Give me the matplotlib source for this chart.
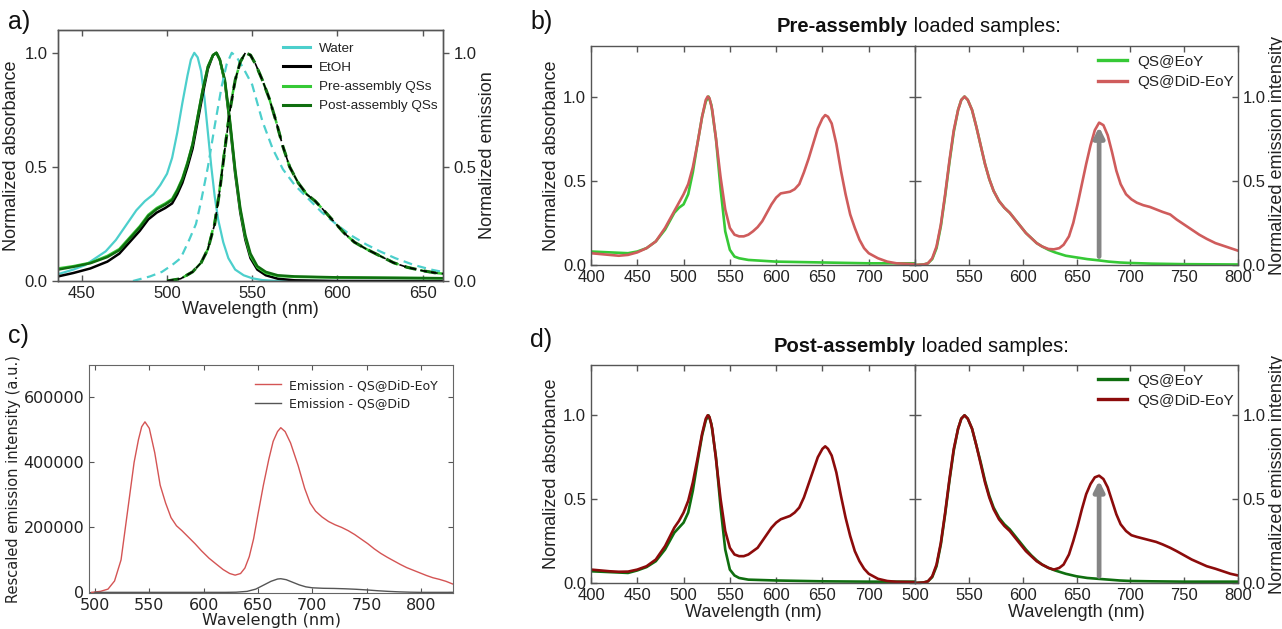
import matplotlib
matplotlib.use('Agg')
import matplotlib.pyplot as plt

# FONTS
SANS = ['Liberation Sans', 'DejaVu Sans']
NARROW = ['Liberation Sans Narrow', 'Liberation Sans', 'DejaVu Sans']

# DATA - panel a (normalized absorbance / emission)
water_abs_nm = [436, 445, 452, 458, 464, 470, 476, 482, 487, 492, 496, 500, 503, 506, 509, 512, 514, 516,
                518, 520, 522, 524, 526, 528, 530, 533, 536, 540, 545, 550, 556, 565, 665]
water_abs = [0.03, 0.05, 0.07, 0.10, 0.13, 0.18, 0.245, 0.31, 0.35, 0.38, 0.42, 0.47, 0.54, 0.65, 0.78, 0.90,
             0.97, 1.00, 0.98, 0.92, 0.80, 0.65, 0.50, 0.37, 0.27, 0.17, 0.10, 0.05, 0.025, 0.012, 0.004, 0.0, 0.0]
water_em_nm = [480, 490, 497, 503, 508, 513, 517, 520, 524, 528, 532, 535, 538, 541, 545, 550, 556, 562, 568,
               575, 583, 591, 600, 608, 617, 625, 634, 645, 655, 665]
water_em = [0.0, 0.02, 0.04, 0.07, 0.10, 0.18, 0.25, 0.35, 0.50, 0.68, 0.85, 0.95, 1.00, 0.98, 0.93, 0.86,
            0.70, 0.58, 0.49, 0.42, 0.36, 0.30, 0.245, 0.20, 0.16, 0.13, 0.10, 0.07, 0.05, 0.035]

abs_nm = [436, 445, 455, 465, 472, 478, 484, 489, 494, 499, 503, 506, 509, 512, 515, 518, 521, 524, 527, 529,
          531, 534, 537, 540, 543, 546, 549, 553, 558, 565, 575, 600, 665]
etoh_abs = [0.02, 0.035, 0.055, 0.085, 0.12, 0.17, 0.22, 0.27, 0.30, 0.32, 0.34, 0.38, 0.43, 0.50, 0.58,
            0.70, 0.82, 0.93, 0.99, 1.00, 0.97, 0.87, 0.68, 0.47, 0.30, 0.18, 0.10, 0.05, 0.025, 0.01, 0.003,
            0.0, 0.0]
pre_abs = [0.055, 0.065, 0.08, 0.11, 0.14, 0.19, 0.24, 0.29, 0.32, 0.34, 0.36, 0.40, 0.45, 0.52, 0.60,
           0.72, 0.84, 0.94, 0.99, 1.00, 0.97, 0.87, 0.69, 0.48, 0.31, 0.19, 0.11, 0.06, 0.035, 0.022, 0.018,
           0.015, 0.012]
post_abs = [0.05, 0.062, 0.078, 0.105, 0.135, 0.185, 0.235, 0.285, 0.315, 0.335, 0.355, 0.395, 0.445, 0.515,
            0.60, 0.72, 0.84, 0.94, 0.99, 1.00, 0.97, 0.88, 0.70, 0.49, 0.32, 0.20, 0.12, 0.065, 0.04, 0.025,
            0.02, 0.016, 0.012]

em_nm = [500, 508, 515, 520, 524, 528, 531, 534, 537, 540, 543, 546, 549, 552, 556, 560, 564, 568, 572, 577,
         582, 587, 592, 598, 604, 610, 617, 625, 633, 641, 650, 658, 665]
etoh_em = [0.0, 0.01, 0.04, 0.08, 0.14, 0.25, 0.40, 0.58, 0.75, 0.88, 0.96, 1.00, 0.99, 0.95, 0.88, 0.80,
           0.70, 0.59, 0.50, 0.43, 0.38, 0.35, 0.31, 0.26, 0.21, 0.17, 0.14, 0.11, 0.08, 0.06, 0.045, 0.035, 0.03]
pre_em = [0.0, 0.01, 0.04, 0.08, 0.14, 0.26, 0.41, 0.59, 0.76, 0.88, 0.96, 1.00, 0.99, 0.95, 0.88, 0.80,
          0.70, 0.59, 0.50, 0.43, 0.38, 0.35, 0.31, 0.26, 0.21, 0.17, 0.14, 0.11, 0.08, 0.06, 0.045, 0.035, 0.03]
post_em = [0.0, 0.01, 0.04, 0.08, 0.14, 0.25, 0.40, 0.58, 0.75, 0.88, 0.96, 1.00, 0.99, 0.95, 0.88, 0.80,
           0.70, 0.59, 0.50, 0.43, 0.38, 0.35, 0.31, 0.26, 0.21, 0.17, 0.14, 0.11, 0.08, 0.06, 0.045, 0.035, 0.03]

# DATA - panel b (pre-assembly)
b_abs_nm = [400, 420, 430, 440, 450, 460, 470, 480, 490, 495, 500, 505, 510, 515, 520, 524, 526, 528, 531,
            535, 540, 545, 550, 555, 560, 565, 570, 575, 580, 585, 590, 595, 600, 605, 610, 615, 620, 625,
            630, 635, 640, 645, 650, 653, 656, 660, 665, 670, 675, 680, 685, 690, 695, 700, 710, 720, 730, 750]
b_did_abs = [0.07, 0.06, 0.055, 0.06, 0.075, 0.10, 0.14, 0.22, 0.32, 0.37, 0.42, 0.48, 0.58, 0.72, 0.88,
             0.98, 1.00, 0.99, 0.92, 0.75, 0.52, 0.33, 0.22, 0.18, 0.17, 0.17, 0.18, 0.20, 0.225, 0.26, 0.31,
             0.36, 0.40, 0.425, 0.43, 0.435, 0.45, 0.48, 0.55, 0.63, 0.72, 0.81, 0.87, 0.89, 0.88, 0.84, 0.72,
             0.56, 0.42, 0.30, 0.22, 0.15, 0.10, 0.07, 0.04, 0.02, 0.01, 0.005]
b_eoy_abs_nm = [400, 420, 440, 450, 460, 470, 480, 490, 495, 500, 505, 510, 515, 520, 524, 527, 530, 535,
                540, 545, 550, 555, 560, 570, 600, 650, 700, 750]
b_eoy_abs = [0.08, 0.075, 0.07, 0.08, 0.10, 0.14, 0.21, 0.31, 0.34, 0.36, 0.42, 0.55, 0.72, 0.88, 0.97,
             1.00, 0.95, 0.75, 0.45, 0.20, 0.09, 0.05, 0.04, 0.03, 0.02, 0.015, 0.01, 0.01]

b_em_nm = [500, 508, 512, 516, 520, 524, 528, 532, 536, 540, 543, 546, 549, 553, 557, 561, 565, 569, 573,
           578, 583, 588, 593, 598, 603, 608, 613, 618, 624, 629, 634, 638, 643, 647, 651, 655, 659, 663,
           667, 671, 675, 679, 683, 687, 691, 696, 701, 706, 712, 718, 724, 730, 737, 743, 750, 757, 764,
           771, 779, 786, 793, 800]
b_did_em = [0.0, 0.003, 0.01, 0.04, 0.11, 0.24, 0.42, 0.62, 0.80, 0.92, 0.98, 1.00, 0.98, 0.92, 0.82, 0.71,
            0.60, 0.51, 0.44, 0.38, 0.34, 0.31, 0.27, 0.23, 0.19, 0.16, 0.13, 0.11, 0.095, 0.093, 0.10, 0.12,
            0.17, 0.25, 0.36, 0.48, 0.60, 0.71, 0.80, 0.845, 0.83, 0.77, 0.67, 0.56, 0.48, 0.42, 0.39, 0.37,
            0.355, 0.345, 0.33, 0.315, 0.30, 0.27, 0.24, 0.21, 0.18, 0.155, 0.13, 0.115, 0.10, 0.085]
eoy_em_nm = [500, 508, 512, 516, 520, 524, 528, 532, 536, 540, 543, 546, 549, 553, 557, 561, 565, 569, 573,
             578, 583, 588, 593, 598, 603, 608, 613, 618, 624, 630, 640, 650, 660, 670, 680, 690, 700, 720,
             750, 800]
b_eoy_em = [0.0, 0.003, 0.01, 0.035, 0.10, 0.23, 0.41, 0.61, 0.79, 0.92, 0.98, 1.00, 0.98, 0.92, 0.82, 0.71,
            0.60, 0.51, 0.44, 0.38, 0.34, 0.31, 0.27, 0.23, 0.19, 0.16, 0.13, 0.11, 0.09, 0.075, 0.055, 0.045,
            0.035, 0.028, 0.02, 0.015, 0.012, 0.008, 0.005, 0.003]

# DATA - panel c (rescaled emission)
c_nm = [497, 505, 512, 518, 524, 528, 532, 536, 540, 543, 546, 550, 555, 560, 565, 570, 575, 580, 586, 592,
        598, 605, 612, 618, 624, 629, 634, 638, 642, 646, 650, 655, 660, 664, 668, 671, 675, 680, 687, 693,
        698, 703, 709, 715, 721, 727, 733, 739, 745, 751, 757, 763, 769, 775, 781, 787, 793, 799, 805, 811,
        817, 823, 829]
c_did_eoy = [0, 3000, 10000, 35000, 100000, 200000, 300000, 400000, 470000, 510000, 525000, 505000, 430000,
             330000, 275000, 230000, 205000, 190000, 170000, 150000, 128000, 105000, 86000, 70000, 58000,
             53000, 58000, 75000, 110000, 165000, 240000, 330000, 410000, 465000, 495000, 507000, 495000,
             460000, 390000, 320000, 275000, 250000, 232000, 218000, 208000, 200000, 190000, 178000, 164000,
             150000, 134000, 120000, 108000, 97000, 86000, 76000, 68000, 60000, 52000, 45000, 40000, 34000,
             26000]
c_did_nm = [500, 620, 630, 640, 648, 655, 662, 668, 671, 676, 682, 688, 694, 700, 710, 720, 730, 740, 750,
            760, 770, 780, 790, 800, 829]
c_did = [0, 0, 500, 3000, 10000, 22000, 34000, 41000, 42000, 39000, 31000, 23000, 17000, 14000, 12500,
         12000, 11000, 9500, 7500, 5000, 3000, 1500, 500, 0, 0]

# DATA - panel d (post-assembly)
d_did_abs = [0.08, 0.07, 0.067, 0.068, 0.08, 0.10, 0.14, 0.22, 0.33, 0.37, 0.42, 0.49, 0.60, 0.74, 0.89,
             0.98, 1.00, 0.99, 0.92, 0.74, 0.50, 0.31, 0.21, 0.17, 0.16, 0.16, 0.17, 0.19, 0.21, 0.25, 0.29,
             0.33, 0.36, 0.38, 0.39, 0.40, 0.42, 0.45, 0.51, 0.59, 0.67, 0.75, 0.80, 0.815, 0.80, 0.76, 0.66,
             0.52, 0.39, 0.28, 0.19, 0.13, 0.085, 0.055, 0.025, 0.012, 0.007, 0.005]
d_eoy_abs = [0.07, 0.065, 0.06, 0.075, 0.095, 0.13, 0.20, 0.30, 0.33, 0.36, 0.42, 0.55, 0.72, 0.88, 0.97,
             1.00, 0.95, 0.75, 0.45, 0.20, 0.08, 0.045, 0.03, 0.02, 0.015, 0.01, 0.008, 0.008]
d_did_em = [0.0, 0.003, 0.01, 0.04, 0.11, 0.24, 0.42, 0.62, 0.80, 0.92, 0.98, 1.00, 0.98, 0.92, 0.82, 0.71,
            0.60, 0.51, 0.44, 0.38, 0.34, 0.31, 0.27, 0.23, 0.19, 0.16, 0.13, 0.11, 0.09, 0.08, 0.09, 0.11,
            0.17, 0.25, 0.34, 0.44, 0.53, 0.59, 0.63, 0.64, 0.62, 0.57, 0.49, 0.41, 0.35, 0.31, 0.285, 0.275,
            0.265, 0.255, 0.245, 0.23, 0.21, 0.19, 0.165, 0.14, 0.12, 0.10, 0.085, 0.07, 0.055, 0.045]
d_eoy_em = [0.0, 0.003, 0.01, 0.035, 0.10, 0.23, 0.41, 0.61, 0.79, 0.92, 0.98, 1.00, 0.98, 0.92, 0.82, 0.72,
            0.61, 0.52, 0.45, 0.39, 0.35, 0.32, 0.28, 0.24, 0.20, 0.165, 0.135, 0.11, 0.09, 0.075, 0.055,
            0.04, 0.03, 0.025, 0.02, 0.015, 0.012, 0.01, 0.008, 0.008]

# arrow positions (nm, start, end)
b_arrow = (671, 0.05, 0.82)
d_arrow = (671, 0.04, 0.61)

# COLOURS
CYAN = '#4ccfcc'
LGREEN = '#36c936'
DGREEN = '#0f6e0f'
RED_B = '#cf5c5c'
RED_D = '#8c0b0b'
SPINE = '#555555'
TXT = '#222222'

W, H = 1282, 629


def frac(left, top, right, bottom):
    return [left / W, 1 - bottom / H, (right - left) / W, (bottom - top) / H]


def style_axes(ax, family, size):
    for s in ax.spines.values():
        s.set_color(SPINE)
        s.set_linewidth(1.0)
    ax.tick_params(colors=SPINE, labelcolor=TXT, labelsize=size, width=1.0, length=4)
    for lab in ax.get_xticklabels() + ax.get_yticklabels():
        lab.set_family(family)


def spectra_pair(axl, axr, abs_series, em_series, arrow, xlabel):
    for x, y, c in abs_series:
        axl.plot(x, y, color=c, lw=1.9)
    for x, y, c, lab in em_series:
        axr.plot(x, y, color=c, lw=1.9, label=lab)
    axl.set_xlim(400, 750)
    axr.set_xlim(500, 800)
    for ax in (axl, axr):
        ax.set_ylim(0, 1.3)
        ax.set_yticks([0, 0.5, 1.0])
        ax.set_yticklabels(['0.0', '0.5', '1.0'])
        ax.tick_params(direction='in', top=True, bottom=True)
    axl.set_xticks(range(400, 701, 50))
    axr.set_xticks(range(500, 801, 50))
    axl.tick_params(left=True, right=True)
    axr.yaxis.tick_right()
    axr.tick_params(left=True, right=True, labelleft=False, labelright=True)
    style_axes(axl, NARROW, 12)
    style_axes(axr, NARROW, 12)
    axl.set_ylabel('Normalized absorbance', family=SANS, fontsize=13, color=TXT, labelpad=2)
    axr.yaxis.set_label_position('right')
    axr.set_ylabel('Normalized emission intensity', family=SANS, fontsize=13, color=TXT, labelpad=2)
    if xlabel:
        axl.set_xlabel('Wavelength (nm)', family=SANS, fontsize=13, color=TXT, labelpad=1)
        axr.set_xlabel('Wavelength (nm)', family=SANS, fontsize=13, color=TXT, labelpad=1)
    axr.annotate('', xy=(arrow[0], arrow[2]), xytext=(arrow[0], arrow[1]),
                 arrowprops=dict(arrowstyle='-|>', color='#858585', lw=3.4, mutation_scale=15,
                                 shrinkA=0, shrinkB=0))
    leg = axr.legend(loc='upper left', frameon=False, prop={'family': NARROW, 'size': 11},
                     handlelength=1.9, handletextpad=0.65, labelspacing=0.4, borderpad=0,
                     borderaxespad=0, bbox_to_anchor=(0.567, 0.96))
    for line in leg.get_lines():
        line.set_linewidth(2.4)
    for t in leg.get_texts():
        t.set_color(TXT)


# SCRIPT
fig = plt.figure(figsize=(W / 100, H / 100), dpi=100)

# ---- panel a
ax_a = fig.add_axes(frac(58, 30, 443, 281))
ax_a2 = ax_a.twinx()
ax_a.plot(water_abs_nm, water_abs, color=CYAN, lw=1.6, label='Water')
ax_a.plot(abs_nm, etoh_abs, color='black', lw=1.8, label='EtOH')
ax_a.plot(abs_nm, pre_abs, color=LGREEN, lw=1.8, label='Pre-assembly QSs')
ax_a.plot(abs_nm, post_abs, color=DGREEN, lw=1.8, label='Post-assembly QSs')
ax_a2.plot(water_em_nm, water_em, color=CYAN, lw=1.6, ls=(0, (4, 2.5)))
ax_a2.plot(em_nm, pre_em, color=LGREEN, lw=1.8, ls=(0, (4, 2.5)))
ax_a2.plot(em_nm, post_em, color=DGREEN, lw=2.2, ls=(0, (4, 2.5)))
ax_a2.plot(em_nm, etoh_em, color='black', lw=1.2, ls=(0, (4, 2.5)))
for ax in (ax_a, ax_a2):
    ax.set_ylim(0, 1.1)
    ax.set_yticks([0, 0.5, 1.0])
    ax.set_yticklabels(['0.0', '0.5', '1.0'])
ax_a.set_xlim(436, 662)
ax_a.set_xticks(range(450, 651, 50))
ax_a.tick_params(axis='x', direction='in', top=True)
ax_a.tick_params(axis='y', direction='out')
ax_a2.tick_params(axis='y', direction='out')
style_axes(ax_a, SANS, 12)
style_axes(ax_a2, SANS, 12)
ax_a.set_xlabel('Wavelength (nm)', family=SANS, fontsize=13, color=TXT, labelpad=0)
ax_a.set_ylabel('Normalized absorbance', family=SANS, fontsize=13, color=TXT, labelpad=3)
ax_a2.set_ylabel('Normalized emission', family=SANS, fontsize=13, color=TXT, labelpad=2)
leg_a = ax_a.legend(loc='upper left', frameon=False, prop={'family': SANS, 'size': 9.7},
                    handlelength=2.0, handletextpad=0.7, labelspacing=0.5, borderpad=0,
                    borderaxespad=0, bbox_to_anchor=(0.584, 0.95))
for line in leg_a.get_lines():
    line.set_linewidth(2.2)
for t in leg_a.get_texts():
    t.set_color(TXT)

# ---- panel b
ax_bl = fig.add_axes(frac(591, 46, 915, 265))
ax_br = fig.add_axes(frac(915, 46, 1238, 265))
spectra_pair(ax_bl, ax_br,
             [(b_eoy_abs_nm, b_eoy_abs, LGREEN), (b_abs_nm, b_did_abs, RED_B)],
             [(eoy_em_nm, b_eoy_em, LGREEN, 'QS@EoY'), (b_em_nm, b_did_em, RED_B, 'QS@DiD-EoY')],
             b_arrow, False)

# ---- panel c
ax_c = fig.add_axes(frac(89, 365, 453, 593))
ax_c.plot(c_nm, c_did_eoy, color='#d45454', lw=1.0, label='Emission - QS@DiD-EoY')
ax_c.plot(c_did_nm, c_did, color='#555555', lw=1.0, label='Emission - QS@DiD')
ax_c.set_xlim(494.5, 829.5)
ax_c.set_ylim(-2000, 700000)
ax_c.set_xticks(range(500, 801, 50))
ax_c.set_yticks([0, 200000, 400000, 600000])
ax_c.tick_params(direction='in', top=True, right=True, labelsize=11.5, colors=SPINE, labelcolor=TXT)
for s in ax_c.spines.values():
    s.set_color('#666666')
ax_c.set_xlabel('Wavelength (nm)', fontsize=11.5, color=TXT, labelpad=0)
ax_c.set_ylabel('Rescaled emission intensity (a.u.)', fontsize=10.5, color=TXT, labelpad=2)
leg_c = ax_c.legend(loc='upper left', frameon=False, fontsize=9.0, handlelength=2.1, handletextpad=0.6,
                    labelspacing=0.45, borderpad=0, borderaxespad=0, bbox_to_anchor=(0.456, 0.94))
for t in leg_c.get_texts():
    t.set_color(TXT)

# ---- panel d
ax_dl = fig.add_axes(frac(591, 365, 915, 583))
ax_dr = fig.add_axes(frac(915, 365, 1238, 583))
spectra_pair(ax_dl, ax_dr,
             [(b_eoy_abs_nm, d_eoy_abs, DGREEN), (b_abs_nm, d_did_abs, RED_D)],
             [(eoy_em_nm, d_eoy_em, DGREEN, 'QS@EoY'), (b_em_nm, d_did_em, RED_D, 'QS@DiD-EoY')],
             d_arrow, True)

# ---- titles and panel letters
for ytxt, bold, xsplit in ((27, 'Pre-assembly', 908), (346, 'Post-assembly', 916)):
    fig.text(xsplit / W, 1 - ytxt / H, bold, ha='right', va='center', family=NARROW,
             fontsize=14.5, fontweight='bold', color='#111111')
    fig.text(xsplit / W, 1 - ytxt / H, ' loaded samples:', ha='left', va='center', family=NARROW,
             fontsize=14.5, color='#111111')

for lab, x, y in (('a)', 8, 22), ('b)', 530, 22), ('c)', 8, 336), ('d)', 530, 340)):
    fig.text(x / W, 1 - y / H, lab, ha='left', va='center', family=SANS, fontsize=18, color='#111111')

fig.savefig('out.png', dpi=100)
